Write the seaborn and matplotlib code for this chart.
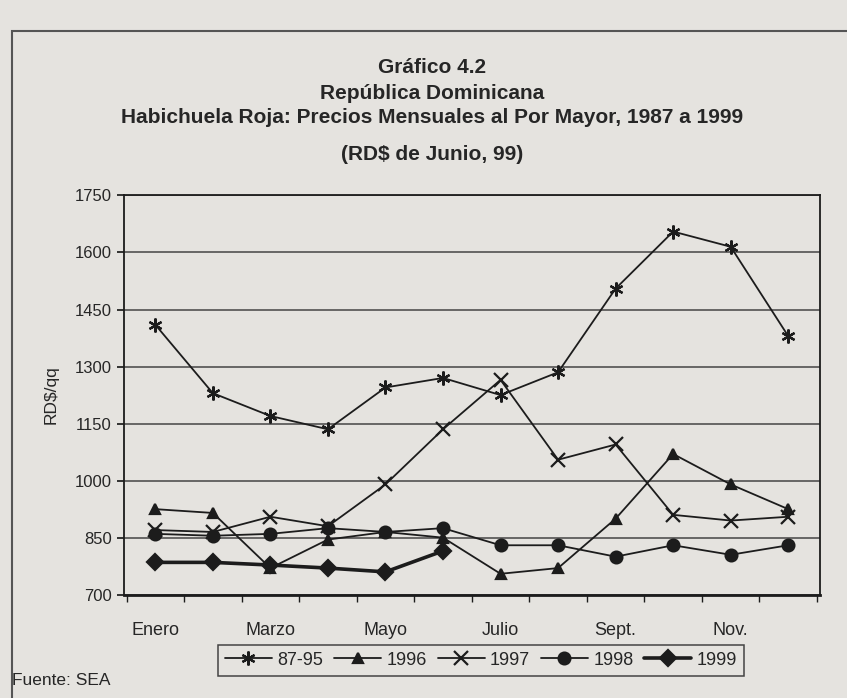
import numpy as np
import matplotlib
matplotlib.use("Agg")
import matplotlib.pyplot as plt
from matplotlib.patches import Rectangle
import pandas as pd
import seaborn as sns

# monthly wholesale prices, RD$/qq
months = ["Ene", "Feb", "Mar", "Abr", "May", "Jun",
          "Jul", "Ago", "Sep", "Oct", "Nov", "Dic"]
tick_labels = ["Enero", "Marzo", "Mayo", "Julio", "Sept.", "Nov."]

s_8795 = [1410, 1230, 1170, 1135, 1245, 1270, 1225, 1285, 1505, 1655, 1615, 1380]
s_1996 = [925, 915, 770, 845, 865, 850, 755, 770, 900, 1070, 990, 925]
s_1997 = [870, 865, 905, 880, 990, 1135, 1265, 1055, 1095, 910, 895, 905]
s_1998 = [860, 855, 860, 875, 865, 875, 830, 830, 800, 830, 805, 830]
s_1999 = [785, 785, 778, 770, 760, 815]

series = {"87-95": s_8795, "1996": s_1996, "1997": s_1997,
          "1998": s_1998, "1999": s_1999}
markers = {"87-95": (6, 2, 0), "1996": "^", "1997": "x", "1998": "o", "1999": "D"}
msizes = {"87-95": 10, "1996": 7.5, "1997": 10, "1998": 8.5, "1999": 8}
lwidths = {"87-95": 1.3, "1996": 1.3, "1997": 1.3, "1998": 1.3, "1999": 2.6}

sns.set_theme(style="white")
plt.rcParams['font.family'] = ['Liberation Sans Narrow', 'Liberation Sans', 'DejaVu Sans']

paper = "#e5e3df"
ink = "#1c1c1c"

fig = plt.figure(figsize=(8.47, 6.98), dpi=100, facecolor=paper)
ax = fig.add_axes([0.146, 0.148, 0.822, 0.572])
ax.set_facecolor(paper)

for name, vals in series.items():
    df = pd.DataFrame({"mes": np.arange(len(vals)), "precio": vals})
    sns.lineplot(data=df, x="mes", y="precio", ax=ax, color=ink,
                 marker=markers[name], markersize=msizes[name],
                 markeredgecolor=ink, markeredgewidth=1.6,
                 linewidth=lwidths[name], label=name)

ax.set_xlim(-0.55, 11.55)
ax.set_ylim(700, 1750)
ax.set_yticks(np.arange(700, 1751, 150))
ax.yaxis.grid(True, color="#454545", linewidth=1.1)
ax.set_axisbelow(True)

ax.set_xticks(np.arange(0, 12, 2))
ax.set_xticklabels(tick_labels, fontsize=13)
ax.set_xticks(np.arange(-0.5, 12, 1), minor=True)
ax.tick_params(axis="x", which="major", length=0, pad=20)
ax.tick_params(axis="x", which="minor", length=5, color=ink, direction="out", bottom=True)
ax.tick_params(axis="y", length=5, color=ink, direction="out", left=True, labelsize=12)

for sp in ax.spines.values():
    sp.set_color(ink)
    sp.set_linewidth(1.3)
ax.spines["bottom"].set_linewidth(2)

ax.set_xlabel("")
ax.set_ylabel("RD$/qq", fontsize=12.5, labelpad=12)

leg = ax.legend(loc="center", bbox_to_anchor=(0.568, 0.054), bbox_transform=fig.transFigure,
                ncol=5, frameon=True, fontsize=13, handlelength=2.6, handletextpad=0.3,
                columnspacing=0.6, borderpad=0.4, fancybox=False)
leg.get_frame().set_edgecolor(ink)
leg.get_frame().set_linewidth(1.1)
leg.get_frame().set_facecolor(paper)

title_kw = dict(ha="center", va="center", fontsize=15, fontweight="bold")
fig.text(0.51, 0.904, "Gráfico 4.2", **title_kw)
fig.text(0.51, 0.866, "República Dominicana", **title_kw)
fig.text(0.51, 0.831, "Habichuela Roja: Precios Mensuales al Por Mayor, 1987 a 1999", **title_kw)
fig.text(0.51, 0.778, "(RD$ de Junio, 99)", **title_kw)
fig.text(0.014, 0.025, "Fuente: SEA", ha="left", va="center", fontsize=12.5)

# outer frame of the printed chart
fig.patches.append(Rectangle((0.014, -0.01), 1.0, 0.965, transform=fig.transFigure,
                             fill=False, edgecolor="#555555", linewidth=1.5))

fig.savefig("out.png", dpi=100, facecolor=paper)
